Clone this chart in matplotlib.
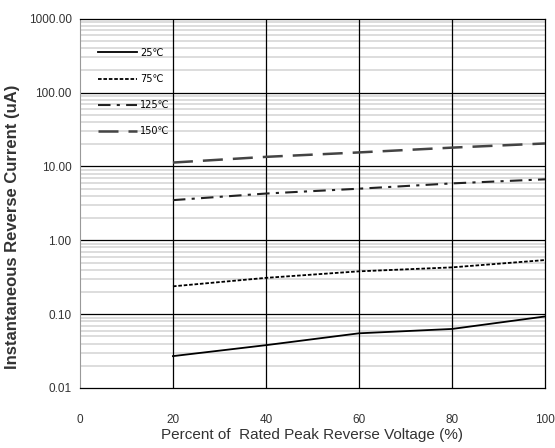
import matplotlib.pyplot as plt
from matplotlib.ticker import LogLocator, FixedLocator, NullFormatter

# Data
voltage_pct = [20, 40, 60, 80, 100]
current_25c = [0.027, 0.038, 0.055, 0.063, 0.093]
current_75c = [0.238, 0.31, 0.38, 0.43, 0.54]
current_125c = [3.5, 4.3, 5.0, 5.9, 6.7]
current_150c = [11.3, 13.5, 15.5, 18.0, 20.5]

y_ticks = [0.01, 0.1, 1, 10, 100, 1000]
y_tick_labels = ['0.01', '0.10', '1.00', '10.00', '100.00', '1000.00']
x_ticks = [0, 20, 40, 60, 80, 100]

plt.rcParams['font.family'] = ['Liberation Sans', 'DejaVu Sans']

fig = plt.figure(figsize=(5.55, 4.48), dpi=100)
ax = fig.add_axes([0.144, 0.134, 0.838, 0.824])

ax.plot(voltage_pct, current_25c, color='black', lw=1.3, ls='-', label='25\u2103', zorder=3)
ax.plot(voltage_pct, current_75c, color='black', lw=1.3, ls=(0, (2, 1)), label='75\u2103', zorder=3)
ax.plot(voltage_pct, current_125c, color='#222222', lw=1.5, ls=(0, (6, 3, 1.5, 3)), label='125\u2103', zorder=3)
ax.plot(voltage_pct, current_150c, color='#444444', lw=1.8, ls=(0, (8, 4)), label='150\u2103', zorder=3)

ax.set_yscale('log')
ax.set_xlim(0, 100)
ax.set_ylim(0.01, 1000)

ax.yaxis.set_major_locator(FixedLocator(y_ticks))
ax.set_yticklabels(y_tick_labels)
ax.yaxis.set_minor_locator(LogLocator(base=10, subs=range(2, 10)))
ax.yaxis.set_minor_formatter(NullFormatter())
ax.set_xticks(x_ticks)

# light minor lines below, black major grid on top of them
ax.set_axisbelow(True)
ax.grid(True, which='minor', axis='y', color='#dadada', lw=1.3)
for y in y_ticks[1:-1]:
    ax.axhline(y, color='black', lw=0.9, zorder=1)
for x in x_ticks[1:-1]:
    ax.axvline(x, color='black', lw=0.9, zorder=1)

for side in ['top', 'right', 'bottom']:
    ax.spines[side].set_color('black')
    ax.spines[side].set_linewidth(0.9)
ax.spines['left'].set_color('#999999')

ax.tick_params(axis='both', which='both', length=0, labelsize=8.5, colors='#333333')
ax.tick_params(axis='x', pad=19)
ax.tick_params(axis='y', pad=6)

ax.set_xlabel('Percent of  Rated Peak Reverse Voltage (%)', fontsize=11, color='#333333', labelpad=1)
ax.set_ylabel('Instantaneous Reverse Current (uA)', fontsize=12, fontweight='bold', color='#333333')
ax.yaxis.set_label_coords(-0.128, 0.436)

ax.legend(loc='upper left', bbox_to_anchor=(0.02, 0.945), frameon=False,
          handlelength=4, labelspacing=1.65, handletextpad=0.3,
          prop={'family': ['DejaVu Sans'], 'size': 7})

fig.savefig('out.png', dpi=100)
